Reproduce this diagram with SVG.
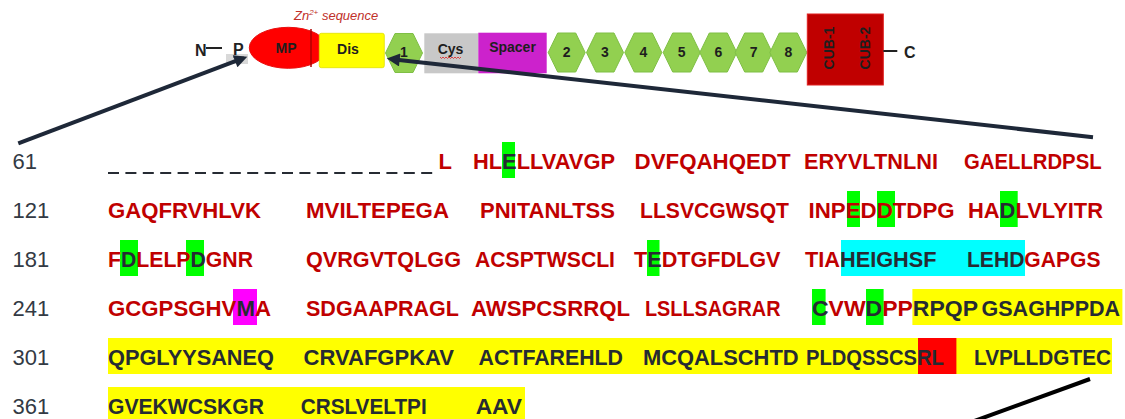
<svg xmlns="http://www.w3.org/2000/svg" width="1125" height="419" viewBox="0 0 1125 419">
<style>
.seq{font-family:"Liberation Sans",Arial,sans-serif;font-weight:bold;font-size:22px;fill:#c00000}
.dk{fill:#262b33}
.num{font-family:"Liberation Sans",Arial,sans-serif;font-size:22px;fill:#333a44}
.lbl{font-family:"Liberation Sans",Arial,sans-serif;font-weight:bold;font-size:14px;fill:#1e1e1e;text-anchor:middle}
.hex{fill:#92d050;stroke:#7fbf45;stroke-width:1}
.conn{stroke:#1e2838;stroke-width:4;fill:none}
.g{fill:#00ff00}.y{fill:#ffff00}.c{fill:#00ffff}.m{fill:#ff00ff}.r{fill:#ff0000}
</style>
<defs>
<marker id="ah" viewBox="0 0 10 10" refX="4" refY="5" markerWidth="16" markerHeight="13" markerUnits="userSpaceOnUse" orient="auto">
<path d="M0,0 L10,5 L0,10 z" fill="#1e2838"/>
</marker>
<polygon id="hx" points="-18.5,0 -9,-19.5 9,-19.5 18.5,0 9,19.5 -9,19.5"/>
</defs>
<rect width="1125" height="419" fill="#ffffff"/>

<!-- domain diagram -->
<g id="n-term">
<text x="195" y="56" font-family="Liberation Sans,Arial,sans-serif" font-weight="bold" font-size="16" fill="#222">N</text>
<line x1="206" y1="48" x2="222" y2="48" stroke="#222" stroke-width="2"/>
</g>
<g id="pro">
<rect x="226" y="54" width="22" height="10" fill="#d9d9d9"/>
<text x="233" y="55" font-family="Liberation Sans,Arial,sans-serif" font-weight="bold" font-size="16" fill="#222">P</text>
<line x1="233" y1="57" x2="244" y2="57" stroke="#555" stroke-width="1"/>
</g>
<g id="zn">
<text x="294" y="20" font-family="Liberation Sans,Arial,sans-serif" font-style="italic" font-size="13" fill="#c0302a">Zn<tspan font-size="8" dy="-5">2+</tspan><tspan dy="5"> sequence</tspan></text>
</g>
<g id="mp">
<ellipse cx="288.3" cy="47.8" rx="39" ry="20.5" fill="#ff0000" stroke="#e81010"/>
<line x1="311" y1="29" x2="311" y2="67" stroke="#b00000" stroke-width="1.5"/>
<text class="lbl" x="286" y="52.7" font-size="15" fill="#3a0000">MP</text>
</g>
<g id="dis">
<rect x="319.3" y="33.3" width="65" height="34.4" fill="#ffff00" stroke="#e0e000" stroke-width="0.8" rx="2"/>
<text class="lbl" x="348" y="54.3">Dis</text>
</g>
<g id="tsp1">
<use href="#hx" x="404" y="53" class="hex"/>
<text class="lbl" x="404" y="56.7">1</text>
</g>
<g id="cys">
<rect x="424.3" y="33.3" width="54" height="40" fill="#c8c8c8"/>
<text class="lbl" x="450.5" y="53.5" font-size="13">Cys</text>
<path d="M440,57 l1.5,1.5 l1.5,-1.5 l1.5,1.5 l1.5,-1.5 l1.5,1.5 l1.5,-1.5 l1.5,1.5 l1.5,-1.5 l1.5,1.5 l1.5,-1.5 l1.5,1.5 l1.5,-1.5 l1.5,1.5 l1.5,-1.5" fill="none" stroke="#e02020" stroke-width="0.8"/>
</g>
<g id="spacer">
<rect x="478.3" y="32.7" width="68.4" height="40.6" fill="#cc22cc"/>
<text class="lbl" x="512.5" y="52" fill="#3a003a">Spacer</text>
</g>
<g id="tsp2"><use href="#hx" x="566.7" y="52.5" class="hex"/><text class="lbl" x="566.7" y="56.7">2</text></g>
<g id="tsp3"><use href="#hx" x="605" y="52.5" class="hex"/><text class="lbl" x="605" y="56.7">3</text></g>
<g id="tsp4"><use href="#hx" x="643.3" y="52.5" class="hex"/><text class="lbl" x="643.3" y="56.7">4</text></g>
<g id="tsp5"><use href="#hx" x="681.7" y="52.5" class="hex"/><text class="lbl" x="681.7" y="56.7">5</text></g>
<g id="tsp6"><use href="#hx" x="718.3" y="52.5" class="hex"/><text class="lbl" x="718.3" y="56.7">6</text></g>
<g id="tsp7"><use href="#hx" x="753.7" y="52.5" class="hex"/><text class="lbl" x="753.7" y="56.7">7</text></g>
<g id="tsp8"><use href="#hx" x="788.3" y="52.5" class="hex"/><text class="lbl" x="788.3" y="56.7">8</text></g>
<g id="cub">
<rect x="807.3" y="14" width="76" height="71" fill="#c00000" stroke="#e02020" stroke-width="1"/>
<text class="lbl" font-size="13.5" fill="#3a0000" transform="translate(834,48) rotate(-90)">CUB-1</text>
<text class="lbl" font-size="13.5" fill="#3a0000" transform="translate(870,48) rotate(-90)">CUB-2</text>
</g>
<g id="c-term">
<line x1="883.3" y1="51" x2="897.3" y2="51" stroke="#222" stroke-width="2"/>
<text x="904" y="58" font-family="Liberation Sans,Arial,sans-serif" font-weight="bold" font-size="16" fill="#222">C</text>
</g>

<!-- connectors -->
<g id="connectors">
<line class="conn" x1="18.3" y1="143.3" x2="240" y2="59.4" marker-end="url(#ah)"/>
<line class="conn" x1="1093" y1="137.2" x2="394.5" y2="59.4" marker-end="url(#ah)"/>
<line x1="1090" y1="379" x2="955" y2="428" stroke="#000" stroke-width="4"/>
</g>

<!-- highlights -->
<g id="highlights">
<rect class="g" x="502" y="142" width="13" height="36"/>
<rect class="g" x="847" y="191" width="13" height="36"/>
<rect class="g" x="877" y="191" width="18" height="36"/>
<rect class="g" x="1000" y="191" width="17.7" height="36"/>
<rect class="g" x="120" y="240" width="18" height="36"/>
<rect class="g" x="186" y="240" width="18" height="36"/>
<rect class="g" x="647" y="240" width="12.5" height="36"/>
<rect class="c" x="841" y="240" width="184" height="36"/>
<rect class="m" x="233" y="289" width="24" height="36"/>
<rect class="g" x="812" y="289" width="13.6" height="36"/>
<rect class="g" x="866" y="289" width="17.6" height="36"/>
<rect class="y" x="912.4" y="289" width="210" height="36"/>
<rect class="y" x="108" y="338" width="1004" height="36"/>
<rect class="r" x="918" y="338" width="38.4" height="36"/>
<rect class="y" x="108" y="387" width="417" height="34"/>
</g>

<!-- row numbers -->
<g id="row-numbers">
<text class="num" x="12.5" y="168.5">61</text>
<text class="num" x="12.5" y="217.5">121</text>
<text class="num" x="12.5" y="266.5">181</text>
<text class="num" x="12.5" y="315.5">241</text>
<text class="num" x="12.5" y="364.5">301</text>
<text class="num" x="12.5" y="413.5">361</text>
</g>

<!-- sequence -->
<g id="sequence">
<line x1="108" y1="173" x2="437" y2="173" stroke="#262b33" stroke-width="2" stroke-dasharray="11 6.4"/>
<text class="seq" x="438.6" y="168.5">L</text>
<text class="seq" x="473" y="168.5" textLength="142" lengthAdjust="spacingAndGlyphs">HL<tspan class="dk">E</tspan>LLVAVGP</text>
<text class="seq" x="634.6" y="168.5" textLength="156" lengthAdjust="spacingAndGlyphs">DVFQAHQEDT</text>
<text class="seq" x="804" y="168.5" textLength="134" lengthAdjust="spacingAndGlyphs">ERYVLTNLNI</text>
<text class="seq" x="964" y="168.5" textLength="137.6" lengthAdjust="spacingAndGlyphs">GAELLRDPSL</text>

<text class="seq" x="108" y="217.5" textLength="153" lengthAdjust="spacingAndGlyphs">GAQFRVHLVK</text>
<text class="seq" x="306" y="217.5" textLength="143" lengthAdjust="spacingAndGlyphs">MVILTEPEGA</text>
<text class="seq" x="480" y="217.5" textLength="135" lengthAdjust="spacingAndGlyphs">PNITANLTSS</text>
<text class="seq" x="640" y="217.5" textLength="149" lengthAdjust="spacingAndGlyphs">LLSVCGWSQT</text>
<text class="seq" x="808.6" y="217.5" textLength="146" lengthAdjust="spacingAndGlyphs">INPEDDTDPG</text>
<text class="seq" x="968" y="217.5" textLength="135" lengthAdjust="spacingAndGlyphs">HA<tspan class="dk">D</tspan>LVLYITR</text>

<text class="seq" x="108" y="266.5" textLength="145" lengthAdjust="spacingAndGlyphs">F<tspan class="dk">D</tspan>LELP<tspan class="dk">D</tspan>GNR</text>
<text class="seq" x="306" y="266.5" textLength="155" lengthAdjust="spacingAndGlyphs">QVRGVTQLGG</text>
<text class="seq" x="475" y="266.5" textLength="140" lengthAdjust="spacingAndGlyphs">ACSPTWSCLI</text>
<text class="seq" x="634" y="266.5" textLength="146.5" lengthAdjust="spacingAndGlyphs">T<tspan class="dk">E</tspan>DTGFDLGV</text>
<text class="seq" x="805" y="266.5" textLength="131.6" lengthAdjust="spacingAndGlyphs">TIA<tspan class="dk">HEIGHSF</tspan></text>
<text class="seq" x="967" y="266.5" textLength="133.5" lengthAdjust="spacingAndGlyphs"><tspan class="dk">LEHD</tspan>GAPGS</text>

<text class="seq" x="108" y="315.5" textLength="163" lengthAdjust="spacingAndGlyphs">GCGPSGHV<tspan class="dk">M</tspan>A</text>
<text class="seq" x="306" y="315.5" textLength="153" lengthAdjust="spacingAndGlyphs">SDGAAPRAGL</text>
<text class="seq" x="471" y="315.5" textLength="159" lengthAdjust="spacingAndGlyphs">AWSPCSRRQL</text>
<text class="seq" x="645" y="315.5" textLength="135.5" lengthAdjust="spacingAndGlyphs">LSLLSAGRAR</text>
<text class="seq" x="812" y="315.5" textLength="166" lengthAdjust="spacingAndGlyphs"><tspan class="dk">C</tspan>VW<tspan class="dk">D</tspan>PP<tspan class="dk">RPQP</tspan></text>
<text class="seq dk" x="981.6" y="315.5" textLength="138.4" lengthAdjust="spacingAndGlyphs">GSAGHPPDA</text>

<text class="seq dk" x="108" y="364.5" textLength="166" lengthAdjust="spacingAndGlyphs">QPGLYYSANEQ</text>
<text class="seq dk" x="303.6" y="364.5" textLength="150.4" lengthAdjust="spacingAndGlyphs">CRVAFGPKAV</text>
<text class="seq dk" x="478.6" y="364.5" textLength="144.4" lengthAdjust="spacingAndGlyphs">ACTFAREHLD</text>
<text class="seq dk" x="643" y="364.5" textLength="155.6" lengthAdjust="spacingAndGlyphs">MCQALSCHTD</text>
<text class="seq dk" x="806" y="364.5" textLength="137.8" lengthAdjust="spacingAndGlyphs">PLDQSSCSRL</text>
<text class="seq dk" x="974" y="364.5" textLength="137" lengthAdjust="spacingAndGlyphs">LVPLLDGTEC</text>

<text class="seq dk" x="108" y="413.5" textLength="156" lengthAdjust="spacingAndGlyphs">GVEKWCSKGR</text>
<text class="seq dk" x="300.7" y="413.5" textLength="126" lengthAdjust="spacingAndGlyphs">CRSLVELTPI</text>
<text class="seq dk" x="475.7" y="413.5" textLength="46.3" lengthAdjust="spacingAndGlyphs">AAV</text>
</g>
</svg>
